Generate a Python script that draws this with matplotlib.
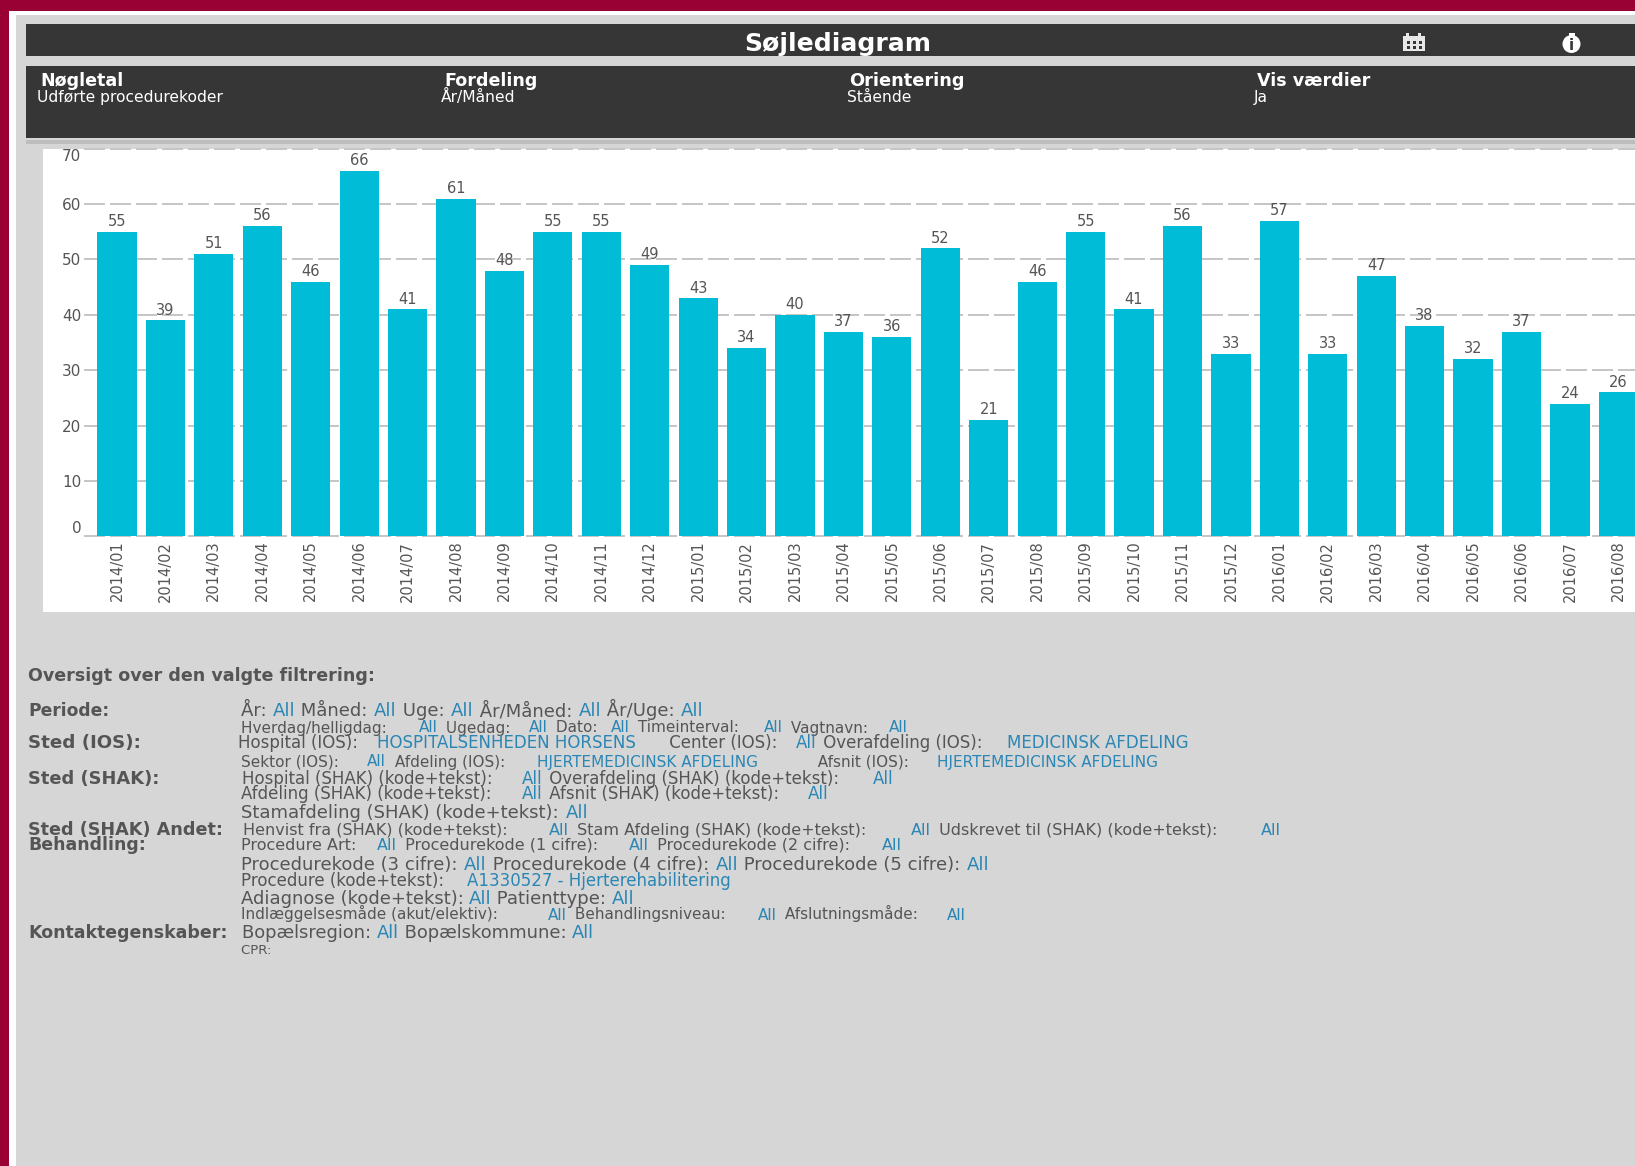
import matplotlib
matplotlib.use('Agg')
import matplotlib.pyplot as plt
from matplotlib.patches import Rectangle, Circle

months = ['2014/01', '2014/02', '2014/03', '2014/04', '2014/05', '2014/06', '2014/07', '2014/08',
          '2014/09', '2014/10', '2014/11', '2014/12', '2015/01', '2015/02', '2015/03', '2015/04',
          '2015/05', '2015/06', '2015/07', '2015/08', '2015/09', '2015/10', '2015/11', '2015/12',
          '2016/01', '2016/02', '2016/03', '2016/04', '2016/05', '2016/06', '2016/07', '2016/08']
values = [55, 39, 51, 56, 46, 66, 41, 61, 48, 55, 55, 49,
          43, 34, 40, 37, 36, 52, 21, 46, 55, 41, 56, 33,
          57, 33, 47, 38, 32, 37, 24, 26]
y_ticks = [0, 10, 20, 30, 40, 50, 60, 70]

header_names = ['Nøgletal', 'Fordeling', 'Orientering', 'Vis værdier']
header_values = ['Udførte procedurekoder', 'År/Måned', 'Stående', 'Ja']

filter_title = 'Oversigt over den valgte filtrering:'
filter_groups = ['Periode:', 'Sted (IOS):', 'Sted (SHAK):', 'Sted (SHAK) Andet:', 'Behandling:', 'Kontaktegenskaber:']

# every line alternates plain text and selected value
filter_lines = [
    ['År: ', 'All', ' Måned: ', 'All', ' Uge: ', 'All', ' År/Måned: ', 'All', ' År/Uge: ', 'All'],
    ['Hverdag/helligdag: ', 'All', ' Ugedag: ', 'All', ' Dato: ', 'All', ' Timeinterval: ', 'All', ' Vagtnavn: ', 'All'],
    ['Hospital (IOS): ', 'HOSPITALSENHEDEN HORSENS', ' Center (IOS): ', 'All', ' Overafdeling (IOS): ', 'MEDICINSK AFDELING'],
    ['Sektor (IOS): ', 'All', ' Afdeling (IOS): ', 'HJERTEMEDICINSK AFDELING', '  Afsnit (IOS): ', 'HJERTEMEDICINSK AFDELING'],
    ['Hospital (SHAK) (kode+tekst): ', 'All', ' Overafdeling (SHAK) (kode+tekst): ', 'All'],
    ['Afdeling (SHAK) (kode+tekst): ', 'All', ' Afsnit (SHAK) (kode+tekst): ', 'All'],
    ['Stamafdeling (SHAK) (kode+tekst): ', 'All'],
    ['Henvist fra (SHAK) (kode+tekst): ', 'All', ' Stam Afdeling (SHAK) (kode+tekst): ', 'All',
     ' Udskrevet til (SHAK) (kode+tekst): ', 'All'],
    ['Procedure Art: ', 'All', ' Procedurekode (1 cifre): ', 'All', ' Procedurekode (2 cifre): ', 'All'],
    ['Procedurekode (3 cifre): ', 'All', ' Procedurekode (4 cifre): ', 'All', ' Procedurekode (5 cifre): ', 'All'],
    ['Procedure (kode+tekst): ', 'A1330527 - Hjerterehabilitering'],
    ['Adiagnose (kode+tekst): ', 'All', ' Patienttype: ', 'All'],
    ['Indlæggelsesmåde (akut/elektiv): ', 'All', ' Behandlingsniveau: ', 'All', ' Afslutningsmåde: ', 'All'],
    ['Bopælsregion: ', 'All', ' Bopælskommune: ', 'All'],
    ['CPR: '],
]

MAROON = '#990033'
PANEL = '#d6d6d6'
DARK = '#363636'
BAR = '#00bcd6'
TEXT = '#555555'
VALUE = '#2a86b4'

fig = plt.figure(figsize=(16.35, 11.66), dpi=100, facecolor=MAROON)

# background axes in pixel coordinates
bg = fig.add_axes([0, 0, 1, 1])
bg.set_xlim(0, 1635)
bg.set_ylim(1166, 0)
bg.axis('off')
renderer = fig.canvas.get_renderer()


def raw_width(s, size, weight):
    t = bg.text(0, 0, s, fontsize=size, fontweight=weight)
    w = t.get_window_extent(renderer).width
    t.remove()
    return w


def text_width(s, size, weight):
    # the bar keeps trailing spaces in the measure
    return raw_width(s + '|', size, weight) - raw_width('|', size, weight)


def fit_text(runs, x0, x1, y, weight='normal', color=TEXT, alt=VALUE, cap=30):
    # size fits the line from x0 to x1; past the cap the runs are spread out instead
    size = min(cap, 10 * (x1 - x0) / text_width(''.join(runs), 10, weight))
    spread = (x1 - x0) / text_width(''.join(runs), size, weight)
    done = ''
    for i, run in enumerate(runs):
        x = x0 + spread * text_width(done, size, weight)
        bg.text(x, y + 0.5 * size, run, fontsize=size, fontweight=weight, va='baseline',
                color=alt if i % 2 else color)
        done += run


bg.add_patch(Rectangle((9, 11), 1626, 1155, color='white', lw=0))
bg.add_patch(Rectangle((16, 15), 1619, 1151, color=PANEL, lw=0))
bg.add_patch(Rectangle((26, 24), 1609, 32, color=DARK, lw=0))
bg.add_patch(Rectangle((26, 66), 1609, 72, color=DARK, lw=0))
bg.add_patch(Rectangle((26, 140), 1609, 4, color='#bdbdbd', lw=0))
bg.add_patch(Rectangle((43, 149), 1592, 463, color='white', lw=0))

fit_text(['Søjlediagram'], 744, 930, 42, weight='bold', color='white')

name_pos = [(40, 123), (444, 537), (849, 964), (1257, 1370)]
value_pos = [(37, 223), (441, 517), (847, 912), (1254, 1275)]
for name, val, (a, b), (c, d) in zip(header_names, header_values, name_pos, value_pos):
    fit_text([name], a, b, 80, weight='bold', color='white')
    fit_text([val], c, d, 96, color='white', cap=11.2)

# calendar icon
bg.add_patch(Rectangle((1403, 36), 22, 15, fc='#e8e8e8', ec='none'))
for x in [1407, 1413, 1419]:
    bg.add_patch(Rectangle((x, 41), 3, 3, fc=DARK, ec='none'))
    bg.add_patch(Rectangle((x, 46), 3, 3, fc=DARK, ec='none'))
bg.add_patch(Rectangle((1406, 33), 3, 5, fc='#e8e8e8', ec='none'))
bg.add_patch(Rectangle((1418, 33), 3, 5, fc='#e8e8e8', ec='none'))

# info icon
bg.add_patch(Rectangle((1569, 33), 6, 5, fc='white', ec='none'))
bg.add_patch(Circle((1571.5, 44), 9, fc='white', ec='none'))
bg.text(1571.5, 45, 'i', color=DARK, fontsize=11, fontweight='bold', ha='center', va='center')

# filter overview
fit_text([filter_title], 28, 373, 675, weight='bold')
group_y = [710, 741, 778, 829, 844, 932]
group_end = [109, 141, 160, 223, 145, 228]
for group, y, x1 in zip(filter_groups, group_y, group_end):
    fit_text([group], 28, x1, y, weight='bold')

line_y = [710, 727, 742, 761, 778, 793, 812, 829, 844, 864, 880, 898, 914, 932, 949]
line_x0 = [241, 241, 238, 241, 242, 241, 241, 243, 241, 241, 241, 241, 241, 242, 241]
line_x1 = [704, 911, 1208, 1208, 895, 831, 589, 1284, 904, 990, 752, 634, 969, 594, 282]
line_cap = [13, 11, 12, 11, 12, 12, 13, 11.5, 11.5, 13, 12, 13, 11, 13, 9.5]
for runs, y, x0, x1, cap in zip(filter_lines, line_y, line_x0, line_x1, line_cap):
    fit_text(runs, x0, x1, y, cap=cap)

# bar chart, placed so a unit is 5.54 px and one month 48.43 px
H = 1166.0
left, right = 84, 1635
y0, y70 = 536.5, 148.7
ax = fig.add_axes([left / 1635, 1 - y0 / H, (right - left) / 1635, (y0 - y70) / H])
ax.patch.set_alpha(0)
ax.set_xlim((left - 117) / 48.43, (right - 117) / 48.43)
ax.set_ylim(0, 70)
for s in ax.spines.values():
    s.set_visible(False)

positions = list(range(len(months)))
bars = ax.bar(positions, values, width=0.81, color=BAR, zorder=3)
ax.bar_label(bars, padding=2, fontsize=10.5, color=TEXT)

ax.yaxis.grid(True, color='#c6c6c6', lw=1.44, linestyle=(0, (10.5, 2.5)), clip_on=False)
ax.set_axisbelow(True)
ax.set_yticks(y_ticks)
ax.set_xticks(positions)
ax.set_xticklabels(months, rotation=90, fontsize=10.5, color=TEXT)
ax.tick_params(axis='both', length=0)
ax.tick_params(axis='x', pad=3)
ax.tick_params(axis='y', pad=2, labelsize=11, labelcolor=TEXT)
for lab, tick in zip(ax.get_yticklabels(), y_ticks):
    if tick == 70:
        lab.set_va('top')
    elif tick == 0:
        lab.set_va('bottom')

plt.savefig('out.png', dpi=100, facecolor=MAROON)
